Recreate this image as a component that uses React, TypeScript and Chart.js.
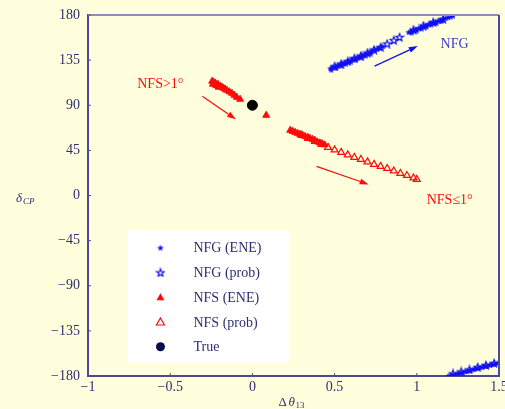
import React, { useEffect, useRef } from "react";
import { Chart, registerables } from "chart.js";

Chart.register(...registerables);

// ---- data (Δθ13, δCP) ----
const NFG_ENE_X = [0.475, 0.49, 0.505, 0.52, 0.535, 0.55, 0.565, 0.58, 0.595, 0.61, 0.625, 0.64, 0.655, 0.67, 0.685, 0.7, 0.715, 0.73, 0.745, 0.76, 0.775, 0.79,
  0.48, 0.51, 0.54, 0.57, 0.6, 0.63, 0.66, 0.69, 0.72,
  0.95, 0.965, 0.98, 0.995, 1.01, 1.025, 1.04, 1.055, 1.07, 1.085, 1.1, 1.115, 1.13, 1.145, 1.16, 1.175, 1.19, 1.205, 1.22,
  0.97, 1.0, 1.03, 1.06, 1.09, 1.12, 1.15,
  1.19, 1.205, 1.22, 1.235, 1.25, 1.265, 1.28, 1.295, 1.31, 1.325, 1.34, 1.355, 1.37, 1.385, 1.4, 1.415, 1.43, 1.445, 1.46, 1.475, 1.49];
const NFG_ENE_Y = [127, 128, 129, 130, 131, 132, 133, 134, 135, 136, 137, 138, 139, 140, 141, 142, 143.3, 144.5, 145.5, 146.5, 147.5, 149,
  125.5, 127.5, 129.5, 131.5, 133.5, 135.5, 137.5, 139.5, 141.5,
  163, 164, 165, 166, 167, 168, 169, 170, 171, 172, 172.8, 173.6, 174.5, 175.3, 176, 177, 177.8, 178.5, 179.3,
  162.5, 164.5, 166.5, 168.5, 170.5, 172, 174,
  -180, -179.3, -178.6, -178, -177.3, -176.6, -176, -175.3, -174.6, -174, -173.3, -172.6, -172, -171.3, -170.7, -170, -169.4, -168.8, -168.2, -167.6, -167];
const NFG_PROB_X = [0.5, 0.54, 0.58, 0.62, 0.66, 0.7, 0.74, 0.78, 0.82, 0.86, 0.895, 0.98, 1.04, 1.1, 1.16, 1.22, 1.27, 1.32, 1.37, 1.42, 1.47];
const NFG_PROB_Y = [129, 131.5, 134, 137, 139.5, 142.5, 145.5, 148, 151.5, 155, 158, 165.5, 169.5, 173, 176, -177.5, -175.5, -173.5, -171, -169, -167];
const NFS_ENE_X = [-0.245, -0.24, -0.235, -0.225, -0.22, -0.21, -0.205, -0.195, -0.185, -0.175, -0.165, -0.155, -0.14, -0.125, -0.11, -0.095, -0.075, 0.084,
  0.23, 0.245, 0.26, 0.275, 0.29, 0.305, 0.32, 0.335, 0.35, 0.365, 0.38, 0.395, 0.41, 0.425, 0.44];
const NFS_ENE_Y = [114, 111, 113, 112, 109.5, 111, 108, 109, 108, 107, 106, 105, 103.5, 102, 100, 98, 96, 80,
  65, 64, 63, 62, 61, 60, 59, 58, 57, 56, 55, 53.5, 52.5, 51.5, 50.5];
const NFS_PROB_X = [0.3, 0.34, 0.38, 0.42, 0.46, 0.5, 0.54, 0.58, 0.62, 0.66, 0.7, 0.74, 0.78, 0.82, 0.86, 0.9, 0.94, 0.98, 1.0];
const NFS_PROB_Y = [60, 57, 54, 51, 48, 45.5, 43, 40.5, 38, 36, 33.5, 31, 29, 27, 24.5, 22, 20, 17.5, 16];
const TRUE_X = [0];
const TRUE_Y = [90];

const SERIES_LABELS = ["NFG (ENE)", "NFG (prob)", "NFS (ENE)", "NFS (prob)", "True"];
const X_TICKS = [-1, -0.5, 0, 0.5, 1, 1.5];
const Y_TICKS = [-180, -135, -90, -45, 0, 45, 90, 135, 180];

const BG = "#FFFFDD";
const BLUE = "#1010F0";
const RED = "#FF0A0A";
const NAVY = "#4A4A98";
const TXT = "#2E2E72";
const SERIF = "'Liberation Serif', 'Times New Roman', serif";

const zip = (xs: number[], ys: number[]) => xs.map((x, i) => ({ x, y: ys[i] }));

function makeStar(size: number, filled: boolean, color: string, lw: number) {
  const c = document.createElement("canvas");
  c.width = size;
  c.height = size;
  const ctx = c.getContext("2d")!;
  const cx = size / 2, cy = size / 2 + 0.5;
  const ro = size / 2 - (filled ? 0.5 : 1);
  const ri = ro * 0.42;
  ctx.beginPath();
  for (let i = 0; i < 10; i++) {
    const r = i % 2 === 0 ? ro : ri;
    const a = -Math.PI / 2 + (i * Math.PI) / 5;
    const px = cx + r * Math.cos(a), py = cy + r * Math.sin(a);
    if (i === 0) ctx.moveTo(px, py); else ctx.lineTo(px, py);
  }
  ctx.closePath();
  if (filled) { ctx.fillStyle = color; ctx.fill(); }
  else { ctx.strokeStyle = color; ctx.lineWidth = lw; ctx.stroke(); }
  return c;
}

function arrow(ctx: CanvasRenderingContext2D, x1: number, y1: number, x2: number, y2: number, color: string) {
  const a = Math.atan2(y2 - y1, x2 - x1);
  const hl = 9, hw = 3;
  ctx.save();
  ctx.strokeStyle = color;
  ctx.fillStyle = color;
  ctx.lineWidth = 1.2;
  ctx.beginPath();
  ctx.moveTo(x1, y1);
  ctx.lineTo(x2 - hl * Math.cos(a), y2 - hl * Math.sin(a));
  ctx.stroke();
  ctx.beginPath();
  ctx.moveTo(x2, y2);
  ctx.lineTo(x2 - hl * Math.cos(a) + hw * Math.sin(a), y2 - hl * Math.sin(a) - hw * Math.cos(a));
  ctx.lineTo(x2 - hl * Math.cos(a) - hw * Math.sin(a), y2 - hl * Math.sin(a) + hw * Math.cos(a));
  ctx.closePath();
  ctx.fill();
  ctx.restore();
}

// annotation arrows in data coordinates
const ARROWS = [
  { from: [-0.305, 99], to: [-0.1, 76], color: RED },
  { from: [0.743, 129], to: [1.006, 149], color: BLUE },
  { from: [0.39, 29], to: [0.707, 11], color: RED },
];

export default function App() {
  const ref = useRef<HTMLCanvasElement>(null);
  useEffect(() => {
    document.body.style.margin = "0";
    const starFilled = makeStar(8, true, BLUE, 1);
    const starOpen = makeStar(10, false, BLUE, 1.2);

    const overlay = {
      id: "overlay",
      beforeDraw(chart: any) {
        const { ctx, width, height } = chart;
        ctx.save();
        ctx.fillStyle = BG;
        ctx.fillRect(0, 0, width, height);
        ctx.restore();
      },
      afterDraw(chart: any) {
        const { ctx, chartArea: a, scales } = chart;
        const xs = scales.x, ys = scales.y;
        ctx.save();
        // frame
        ctx.strokeStyle = "#8C8CB4";
        ctx.lineWidth = 2;
        ctx.beginPath();
        ctx.moveTo(a.left, a.top);
        ctx.lineTo(a.right, a.top);
        ctx.stroke();
        ctx.strokeStyle = NAVY;
        ctx.beginPath();
        ctx.moveTo(a.right, a.top);
        ctx.lineTo(a.right, a.bottom);
        ctx.stroke();
        // inward ticks
        ctx.lineWidth = 1;
        ctx.beginPath();
        X_TICKS.forEach((v) => {
          const px = xs.getPixelForValue(v);
          ctx.moveTo(px, a.bottom);
          ctx.lineTo(px, a.bottom - 3);
        });
        Y_TICKS.forEach((v) => {
          const py = ys.getPixelForValue(v);
          ctx.moveTo(a.left, py);
          ctx.lineTo(a.left + 3, py);
        });
        ctx.stroke();

        // arrows
        ARROWS.forEach((ar) => {
          arrow(ctx, xs.getPixelForValue(ar.from[0]), ys.getPixelForValue(ar.from[1]),
            xs.getPixelForValue(ar.to[0]), ys.getPixelForValue(ar.to[1]), ar.color);
        });

        // region labels
        ctx.font = `14px ${SERIF}`;
        ctx.textBaseline = "middle";
        ctx.textAlign = "center";
        ctx.fillStyle = RED;
        ctx.fillText("NFS>1°", xs.getPixelForValue(-0.56), ys.getPixelForValue(111));
        ctx.fillText("NFS≤1°", xs.getPixelForValue(1.2), ys.getPixelForValue(-5));
        ctx.fillStyle = "#3C3CD2";
        ctx.fillText("NFG", xs.getPixelForValue(1.23), ys.getPixelForValue(151));

        // legend box
        const lx = xs.getPixelForValue(-0.76), rx = xs.getPixelForValue(0.225);
        const ty = ys.getPixelForValue(-35), by = ys.getPixelForValue(-167);
        ctx.fillStyle = "#FFFFFF";
        ctx.fillRect(lx, ty, rx - lx, by - ty);
        const mx = lx + 33, tx = lx + 66;
        const row0 = ty + 17, dy = 24.8;
        ctx.textAlign = "left";
        ctx.font = `14px ${SERIF}`;
        SERIES_LABELS.forEach((lab, i) => {
          const yy = row0 + i * dy;
          if (i === 0) ctx.drawImage(starFilled, mx - 4, yy - 4);
          if (i === 1) ctx.drawImage(starOpen, mx - 5, yy - 5);
          if (i === 2 || i === 3) {
            ctx.beginPath();
            ctx.moveTo(mx, yy - 4);
            ctx.lineTo(mx + 4, yy + 3);
            ctx.lineTo(mx - 4, yy + 3);
            ctx.closePath();
            if (i === 2) { ctx.fillStyle = RED; ctx.fill(); }
            else { ctx.strokeStyle = RED; ctx.lineWidth = 1.2; ctx.stroke(); }
          }
          if (i === 4) {
            ctx.beginPath();
            ctx.arc(mx, yy, 4.5, 0, Math.PI * 2);
            ctx.fillStyle = "#0A0A50";
            ctx.fill();
          }
          ctx.fillStyle = TXT;
          ctx.fillText(lab, tx, yy + 1);
        });

        // axis titles
        ctx.fillStyle = TXT;
        ctx.textBaseline = "alphabetic";
        ctx.textAlign = "left";
        ctx.font = `italic 13px ${SERIF}`;
        ctx.fillText("δ", 16, a.top + (a.bottom - a.top) / 2 + 6);
        ctx.font = `italic 9px ${SERIF}`;
        ctx.fillText("CP", 23, a.top + (a.bottom - a.top) / 2 + 8);
        const cx = (a.left + a.right) / 2;
        ctx.font = `13px ${SERIF}`;
        ctx.fillText("Δ", cx - 15, 406);
        ctx.font = `italic 13px ${SERIF}`;
        ctx.fillText("θ", cx - 5, 406);
        ctx.font = `9px ${SERIF}`;
        ctx.fillText("13", cx + 2, 408);
        ctx.restore();
      },
    };

    const fmt = (v: number) => (v < 0 ? "−" + Math.abs(v) : String(v));

    const chart = new Chart(ref.current!, {
      type: "scatter",
      data: {
        datasets: [
          { label: SERIES_LABELS[0], data: zip(NFG_ENE_X, NFG_ENE_Y), pointStyle: starFilled as any, pointRadius: 4 },
          { label: SERIES_LABELS[1], data: zip(NFG_PROB_X, NFG_PROB_Y), pointStyle: starOpen as any, pointRadius: 5 },
          { label: SERIES_LABELS[2], data: zip(NFS_ENE_X, NFS_ENE_Y), pointStyle: "triangle", pointRadius: 4, backgroundColor: RED, borderColor: RED, borderWidth: 1 },
          { label: SERIES_LABELS[3], data: zip(NFS_PROB_X, NFS_PROB_Y), pointStyle: "triangle", pointRadius: 4, backgroundColor: "rgba(0,0,0,0)", borderColor: RED, borderWidth: 1.2 },
          { label: SERIES_LABELS[4], data: zip(TRUE_X, TRUE_Y), pointStyle: "circle", pointRadius: 5, backgroundColor: "#000000", borderColor: "#000000" },
        ],
      },
      options: {
        animation: false,
        responsive: false,
        layout: { padding: { top: 15, right: 2, left: 0, bottom: 0 } },
        plugins: { legend: { display: false }, tooltip: { enabled: false } },
        scales: {
          x: {
            type: "linear",
            min: -1,
            max: 1.5,
            grid: { display: false, drawTicks: false },
            border: { display: true, color: NAVY, width: 2 },
            afterBuildTicks: (s: any) => { s.ticks = X_TICKS.map((v) => ({ value: v })); },
            afterFit: (s: any) => { s.height = 33; s.paddingLeft = 0; s.paddingRight = 0; },
            ticks: { padding: 3, color: TXT, font: { family: SERIF, size: 14 }, callback: (v: any) => fmt(Number(v)), maxRotation: 0 },
          },
          y: {
            type: "linear",
            min: -180,
            max: 180,
            grid: { display: false, drawTicks: false },
            border: { display: true, color: NAVY, width: 2 },
            afterBuildTicks: (s: any) => { s.ticks = Y_TICKS.map((v) => ({ value: v })); },
            afterFit: (s: any) => { s.width = 88; s.paddingTop = 0; s.paddingBottom = 0; },
            ticks: { padding: 8, color: TXT, font: { family: SERIF, size: 14 }, callback: (v: any) => fmt(Number(v)) },
          },
        },
      },
      plugins: [overlay],
    });
    return () => chart.destroy();
  }, []);
  return <canvas ref={ref} width={505} height={409} style={{ display: "block" }} />;
}
